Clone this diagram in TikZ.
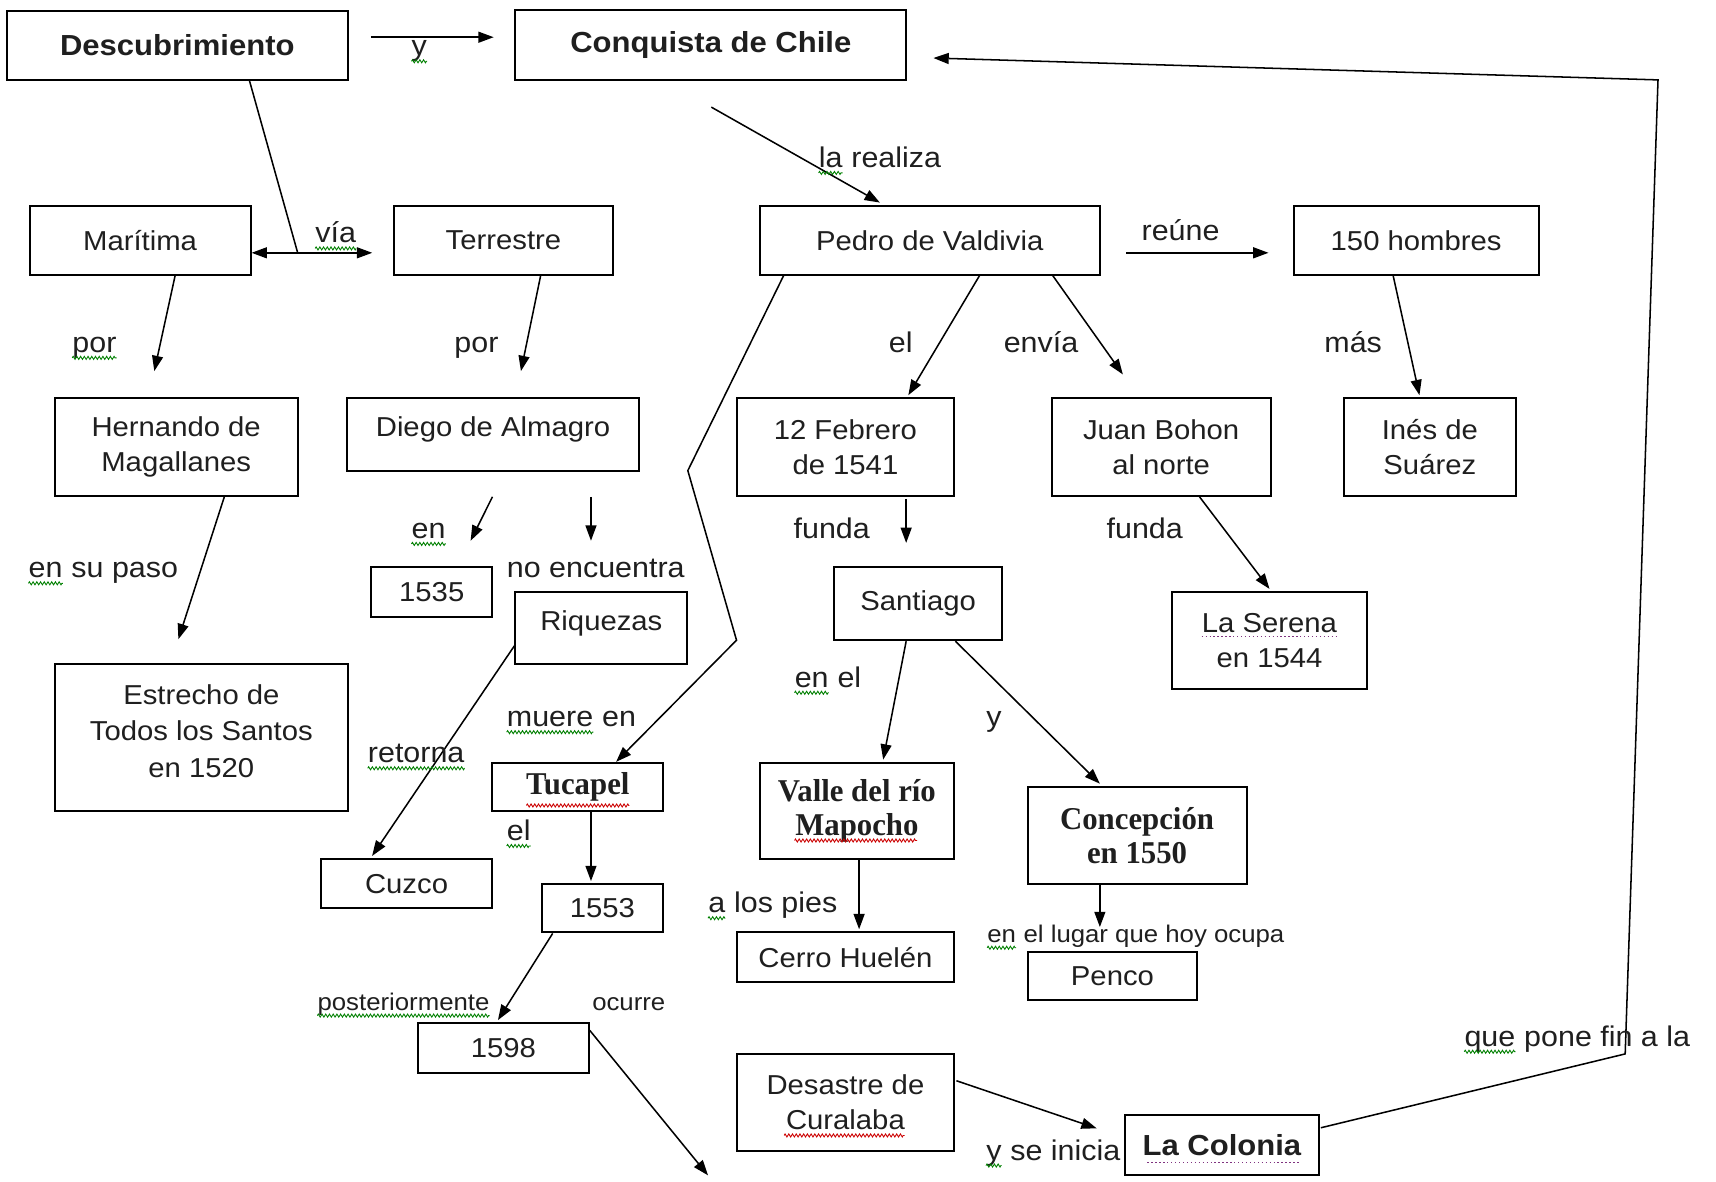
\documentclass[tikz,border=0pt]{standalone}
\usepackage{fontspec}
\setmainfont{Liberation Sans}[FakeStretch=1.07]
\newfontfamily\serifb{Liberation Serif}[FakeStretch=0.97]
\usetikzlibrary{arrows.meta,decorations.pathmorphing}
\tikzset{
 box/.style={draw, line width=1.8pt, inner sep=0pt, align=center, text=black!88, font=\fontsize{25}{32}\selectfont},
 bbox/.style={box, font=\bfseries\fontsize{26.5}{32}\selectfont},
 sbox/.style={box, font=\serifb\bfseries\fontsize{29}{31}\selectfont},
 lbl/.style={inner sep=0pt, anchor=base west, text=black!88, font=\fontsize{26}{30}\selectfont},
 slbl/.style={lbl, font=\fontsize{22}{26}\selectfont},
 conn/.style={line width=1.4pt, -{Triangle[length=14pt,width=10pt]}},
 conntwo/.style={line width=1.4pt, {Triangle[length=14pt,width=10pt]}-{Triangle[length=14pt,width=10pt]}},
 plain/.style={line width=1.4pt},
 sqg/.style={decorate, decoration={zigzag,amplitude=1.4pt,segment length=3.4pt}, draw=green!50!black, line width=0.8pt},
 sqr/.style={sqg, draw=red!80!black},
 sqd/.style={draw=violet!60!gray, line width=1.2pt, dash pattern=on 1.2pt off 2.4pt},
}
\begin{document}
\begin{tikzpicture}[x=1pt,y=-1pt]
\useasboundingbox (0,0) rectangle (1568,1080);
\fill[white] (0,0) rectangle (1568,1080);

% boxes
\node[bbox, minimum width=312pt, minimum height=63pt] (desc) at (162,41.5) {Descubrimiento};
\node[bbox, minimum width=357pt, minimum height=64pt] (conq) at (649.5,41) {Conquista de Chile};
\node[box, minimum width=202pt, minimum height=63pt] (mari) at (128,219.5) {Marítima};
\node[box, minimum width=200pt, minimum height=63pt] (terr) at (460,219.5) {Terrestre};
\node[box, minimum width=311pt, minimum height=63pt] (pedro) at (849.5,219.5) {Pedro de Valdivia};
\node[box, minimum width=224pt, minimum height=63pt] (h150) at (1294,219.5) {150 hombres};
\node[box, minimum width=222pt, minimum height=89pt] (hern) at (161,408.5) {Hernando de\\Magallanes};
\node[box, minimum width=267pt, minimum height=66pt, text height=18pt, text depth=14pt] (diego) at (450.5,397) {Diego de Almagro};
\node[box, minimum width=199pt, minimum height=89pt] (feb) at (772.5,408.5) {12 Febrero\\de 1541};
\node[box, minimum width=200pt, minimum height=89pt] (juan) at (1061,408.5) {Juan Bohon\\al norte};
\node[box, minimum width=157pt, minimum height=89pt] (ines) at (1306.5,408.5) {Inés de\\Suárez};
\node[box, minimum width=111pt, minimum height=46pt] (y1535) at (394.5,541) {1535};
\node[box, minimum width=157pt, minimum height=66pt, text height=18pt, text depth=14pt] (riq) at (549.5,574) {Riquezas};
\node[box, minimum width=154pt, minimum height=67pt] (sant) at (839,551.5) {Santiago};
\node[box, minimum width=178pt, minimum height=89pt] (ser) at (1160,585.5) {La Serena\\en 1544};
\node[box, minimum width=268pt, minimum height=134pt, font=\fontsize{25}{33}\selectfont] (estr) at (184,674) {Estrecho de\\Todos los Santos\\en 1520\\[-21pt]};
\node[sbox, minimum width=156pt, minimum height=44pt] (tuc) at (528,719) {Tucapel};
\node[sbox, minimum width=178pt, minimum height=88pt] (valle) at (783,741) {Valle del río\\Mapocho};
\node[sbox, minimum width=200pt, minimum height=89pt] (conc) at (1039,763.5) {Concepción\\en 1550};
\node[box, minimum width=157pt, minimum height=45pt] (cuzco) at (371.5,807.5) {Cuzco};
\node[box, minimum width=111pt, minimum height=44pt] (y1553) at (550.5,830) {1553};
\node[box, minimum width=199pt, minimum height=45pt] (cerro) at (772.5,874.5) {Cerro Huelén};
\node[box, minimum width=155pt, minimum height=44pt] (penco) at (1016.5,892) {Penco};
\node[box, minimum width=156pt, minimum height=45pt] (y1598) at (460,957.5) {1598};
\node[box, minimum width=199pt, minimum height=89pt] (desa) at (772.5,1007.5) {Desastre de\\Curalaba};
\node[bbox, minimum width=177pt, minimum height=55pt] (colonia) at (1116.5,1046.5) {La Colonia};

% free points
\coordinate (vj) at (272,231);
\coordinate (pv1) at (628.5,430);
\coordinate (pv2) at (673,585);
\coordinate (fend) at (647,1074);
\coordinate (cc1) at (1485,963);
\coordinate (cc2) at (1515,73);

% connectors
\draw[conn] ([shift={(20,-7.5)}]desc.east) -- ([shift={(-19,-7)}]conq.west);
\draw[plain] ([xshift=66pt]desc.south) -- (vj);
\draw[conntwo] ([shift={(0,11.5)}]mari.east) -- ([shift={(-19,11.5)}]terr.west);
\draw[conn] ([shift={(0.5,24)}]conq.south) -- ([shift={(-45.5,-2)}]pedro.north);
\draw[conn] ([shift={(23,11.5)}]pedro.east) -- ([shift={(-22,11.5)}]h150.west);
\draw[conn] ([shift={(32,0)}]mari.south) -- ([shift={(-20,-24)}]hern.north);
\draw[conn] ([shift={(34,0)}]terr.south) -- ([shift={(25.5,-24)}]diego.north);
\draw[conn] ([shift={(45.5,0)}]pedro.south) -- ([shift={(57.5,-2)}]feb.north);
\draw[conn] ([shift={(112.5,0)}]pedro.south) -- ([shift={(-35,-21)}]juan.north);
\draw[conn] ([shift={(-21,0)}]h150.south) -- ([shift={(-9.5,-2)}]ines.north);
\draw[conn] ([shift={(-133.5,0)}]pedro.south) -- (pv1) -- (pv2) -- ([shift={(35,0)}]tuc.north);
\draw[conn] ([shift={(44,0)}]hern.south) -- ([shift={(-21,-22)}]estr.north);
\draw[conn] ([shift={(-0.5,23)}]diego.south) -- ([shift={(35.5,-23)}]y1535.north);
\draw[conn] ([shift={(89.5,23)}]diego.south) -- ([shift={(-9.5,-46)}]riq.north);
\draw[conn] ([shift={(0,16)}]riq.west) -- ([shift={(-31.5,-2)}]cuzco.north);
\draw[conn] ([shift={(12,0)}]tuc.south) -- ([shift={(-10.5,-2)}]y1553.north);
\draw[conn] ([shift={(-45.5,0)}]y1553.south) -- ([shift={(-5,-2)}]y1598.north);
\draw[conn] ([shift={(0,-16)}]y1598.east) -- (fend);
\draw[conn] ([shift={(55.5,2)}]feb.south) -- ([shift={(-11,-21)}]sant.north);
\draw[conn] ([shift={(35,0)}]juan.south) -- ([shift={(0,-2)}]ser.north);
\draw[conn] ([shift={(-11,0)}]sant.south) -- ([shift={(24,-2)}]valle.north);
\draw[conn] ([shift={(34,0)}]sant.south) -- ([shift={(-34,-2)}]conc.north);
\draw[conn] ([shift={(2,0)}]valle.south) -- ([shift={(12.5,-2)}]cerro.north);
\draw[conn] ([shift={(-34,0)}]conc.south) -- ([shift={(-11.5,-22)}]penco.north);
\draw[conn] ([shift={(1,-20)}]desa.east) -- ([shift={(-25,-15.5)}]colonia.west);
\draw[conn] ([shift={(1,-16)}]colonia.east) -- (cc1) -- (cc2) -- ([shift={(24,12)}]conq.east);

% labels
\node[lbl] (ly) at (376,51) {y};
\node[lbl] (lvia) at (288,222) {vía};
\node[lbl] (lla) at (748,153) {la};
\node[lbl] (lrea) at (lla.base east) {\ realiza};
\node[lbl] (lreu) at (1043,220) {reúne};
\node[lbl] (lpor1) at (66,322) {por};
\node[lbl] (lpor2) at (415,322) {por};
\node[lbl] (lel1) at (812,322) {el};
\node[lbl] (lenv) at (917,322) {envía};
\node[lbl] (lmas) at (1210,322) {más};
\node[lbl] (len1) at (376,492) {en};
\node[lbl] (lfun1) at (725,492) {funda};
\node[lbl] (lfun2) at (1011,492) {funda};
\node[lbl] (len2) at (26,528) {en};
\node[lbl] (lsup) at (len2.base east) {\ su paso};
\node[lbl] (lnoe) at (463,528) {no encuentra};
\node[lbl] (len3) at (726,628) {en};
\node[lbl] (lel3) at (len3.base east) {\ el};
\node[lbl] (lmue) at (463,664) {muere};
\node[lbl] (lmen) at (lmue.base east) {\ en};
\node[lbl] (ly2) at (901,664) {y};
\node[lbl] (lret) at (336,697) {retorna};
\node[lbl] (lel2) at (463,768) {el};
\node[lbl] (la) at (647,834) {a};
\node[lbl] (llos) at (la.base east) {\ los pies};
\node[slbl] (len4) at (902,861) {en};
\node[slbl] (llug) at (len4.base east) {\ el lugar que hoy ocupa};
\node[slbl] (lpost) at (290,923) {posteriormente};
\node[slbl] (locu) at (541,923) {ocurre};
\node[lbl] (ly3) at (901,1060) {y};
\node[lbl] (lsei) at (ly3.base east) {\ se inicia};
\node[lbl] (lque) at (1338,956) {que};
\node[lbl] (lpon) at (lque.base east) {\ pone fin a la};

% spelling squiggles
\foreach \n in {ly,lvia,lla,lpor1,len1,len2,len3,lmue,lret,lel2,la,len4,lpost,ly3,lque}
  \draw[sqg] ([shift={(0,5)}]\n.base west) -- ([shift={(0,5)}]\n.base east);
\draw[sqr] ([shift={(-47,17)}]tuc.center) -- ([shift={(47,17)}]tuc.center);
\draw[sqr] ([shift={(-57,27)}]valle.center) -- ([shift={(55,27)}]valle.center);
\draw[sqr] ([shift={(-56,30)}]desa.center) -- ([shift={(54,30)}]desa.center);
\draw[sqd] ([shift={(-62,-4)}]ser.center) -- ([shift={(62,-4)}]ser.center);
\draw[sqd] ([shift={(-68,16)}]colonia.center) -- ([shift={(70,16)}]colonia.center);
\end{tikzpicture}
\end{document}
